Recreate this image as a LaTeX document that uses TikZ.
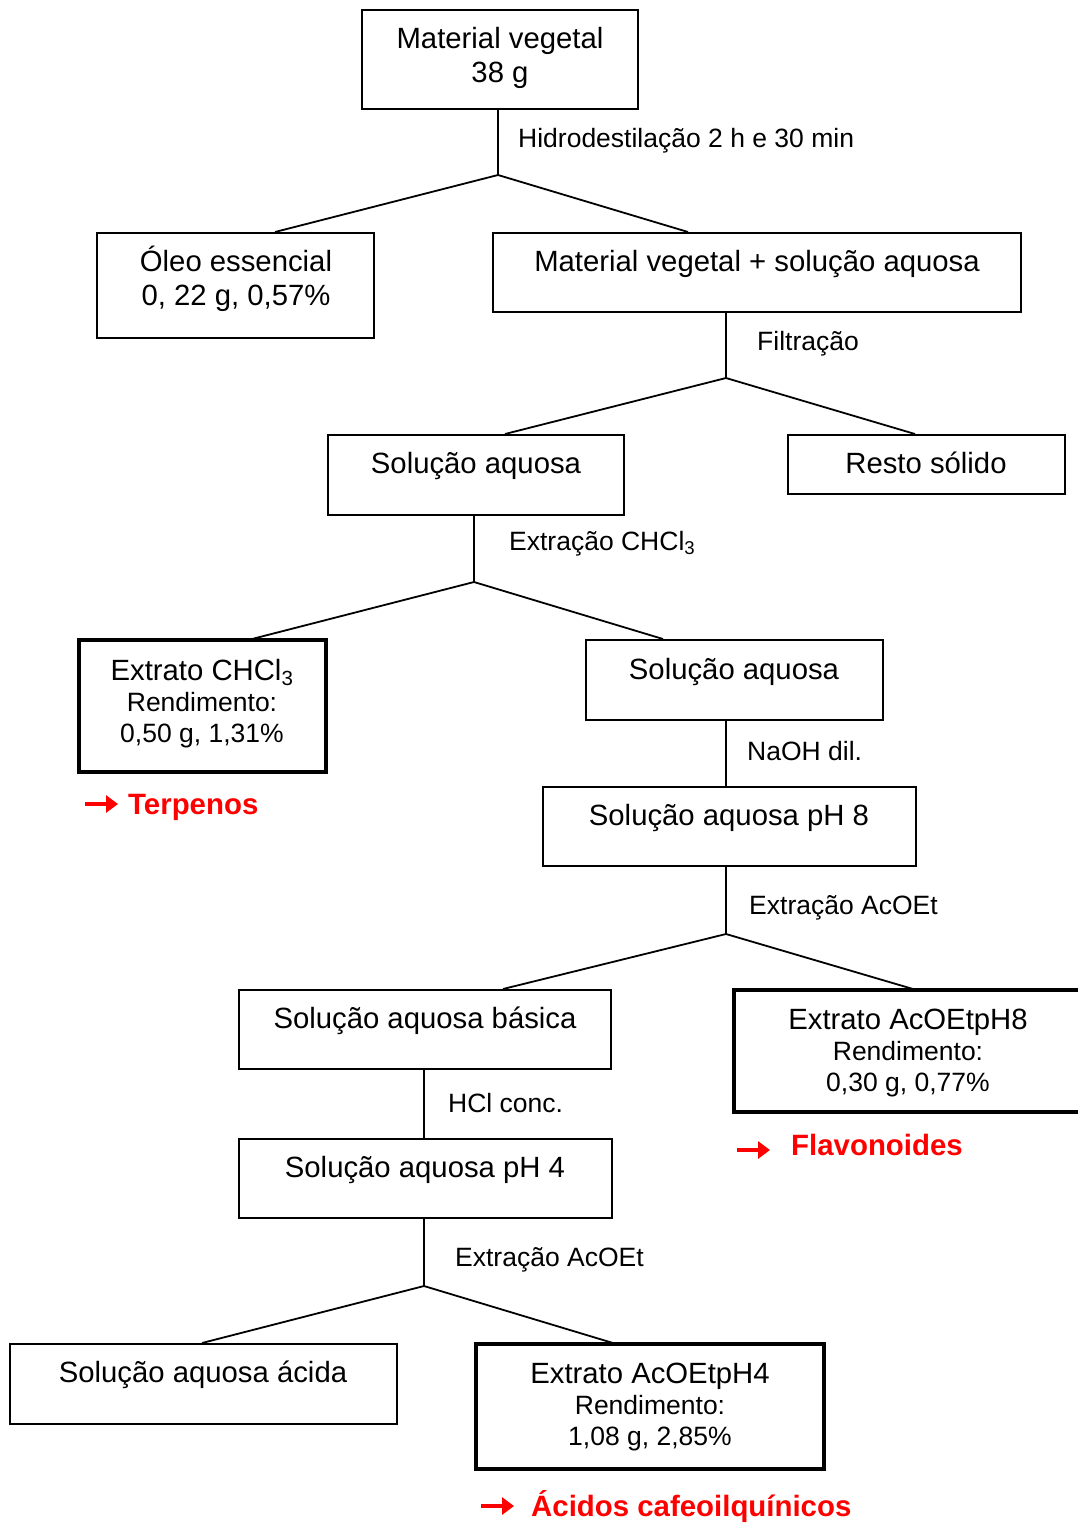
\documentclass[tikz,border=0pt]{standalone}
\usepackage{fontspec}
\setmainfont{Liberation Sans}
\usetikzlibrary{arrows.meta}
\begin{document}
\begin{tikzpicture}[x=1pt,y=-1pt,
  box/.style={draw, line width=1.8pt, inner sep=0pt},
  thickbox/.style={draw, line width=3.6pt, inner sep=0pt},
  main/.style={anchor=base, inner sep=0pt, font=\fontsize{29.3}{33}\selectfont},
  sub/.style={anchor=base, inner sep=0pt, font=\fontsize{26.5}{30}\selectfont},
  lab/.style={anchor=base west, inner sep=0pt, font=\fontsize{26.5}{30}\selectfont},
  red/.style={anchor=base west, inner sep=0pt, text=red, font=\fontsize{29.4}{33}\selectfont\bfseries},
  conn/.style={line width=1.8pt},
  stem/.style={line width=1.5pt},
  redarrow/.style={draw=red, line width=3.6pt, -{Triangle[length=12pt,width=17pt]}}
]
\useasboundingbox (0,0) rectangle (1078,1524);
\fill[white] (0,0) rectangle (1078,1524);

% boxes
\node[box, minimum width=276pt, minimum height=99pt] (b1) at (500,59.5) {};
\node[box, minimum width=277pt, minimum height=105pt] (b2) at (235.5,285.5) {};
\node[box, minimum width=528pt, minimum height=79pt] (b3) at (757,272.5) {};
\node[box, minimum width=296pt, minimum height=80pt] (b4) at (476,475) {};
\node[box, minimum width=277pt, minimum height=59pt] (b5) at (926.5,464.5) {};
\node[thickbox, minimum width=247pt, minimum height=132pt] (b6) at (202.5,706) {};
\node[box, minimum width=297pt, minimum height=80pt] (b7) at (734.5,680) {};
\node[box, minimum width=373pt, minimum height=79pt] (b8) at (729.5,826.5) {};
\node[box, minimum width=372pt, minimum height=79pt] (b9) at (425,1029.5) {};
\node[thickbox, minimum width=348pt, minimum height=122pt] (b10) at (908,1051) {};
\node[box, minimum width=373pt, minimum height=79pt] (b11) at (425.5,1178.5) {};
\node[box, minimum width=387pt, minimum height=80pt] (b12) at (203.5,1384) {};
\node[thickbox, minimum width=348pt, minimum height=125pt] (b13) at (650,1406.5) {};

% texts
\node[main] (t1a) at (500,48) {Material vegetal};
\node[main] (t1b) at (500,82) {38 g};
\node[main] (t2a) at (236,271) {Óleo essencial};
\node[main] (t2b) at (236,305) {0, 22 g, 0,57\%};
\node[main] (t3) at (757,271) {Material vegetal + solução aquosa};
\node[main] (t4) at (476,473) {Solução aquosa};
\node[main] (t5) at (926,473) {Resto sólido};
\node[main] (t6a) at (202,680) {Extrato CHCl\textsubscript{3}};
\node[sub] (t6b) at (202,711) {Rendimento:};
\node[sub] (t6c) at (202,742) {0,50 g, 1,31\%};
\node[main] (t7) at (734,679) {Solução aquosa};
\node[main] (t8) at (729,825) {Solução aquosa pH 8};
\node[main] (t9) at (425,1028) {Solução aquosa básica};
\node[main] (t10a) at (908,1029) {Extrato AcOEtpH8};
\node[sub] (t10b) at (908,1060) {Rendimento:};
\node[sub] (t10c) at (908,1091) {0,30 g, 0,77\%};
\node[main] (t11) at (425,1177) {Solução aquosa pH 4};
\node[main] (t12) at (203,1382) {Solução aquosa ácida};
\node[main] (t13a) at (650,1383) {Extrato AcOEtpH4};
\node[sub] (t13b) at (650,1414) {Rendimento:};
\node[sub] (t13c) at (650,1445) {1,08 g, 2,85\%};

% step labels
\node[lab] (l1) at (518,147) {Hidrodestilação 2 h e 30 min};
\node[lab] (l2) at (757,350) {Filtração};
\node[lab] (l3) at (509,550) {Extração CHCl\textsubscript{3}};
\node[lab] (l4) at (747,760) {NaOH dil.};
\node[lab] (l5) at (749,914) {Extração AcOEt};
\node[lab] (l6) at (448,1112) {HCl conc.};
\node[lab] (l7) at (455,1266) {Extração AcOEt};

% junctions and branch ends
\coordinate (j1) at (498,175);
\coordinate (e1a) at (275,232);
\coordinate (e1b) at (688,232);
\coordinate (j2) at (726,378);
\coordinate (e2a) at (505,434);
\coordinate (e2b) at (915,434);
\coordinate (j3) at (474,582);
\coordinate (e3a) at (252,639);
\coordinate (e3b) at (663,639);
\coordinate (j5) at (726,934);
\coordinate (e5a) at (503,989);
\coordinate (e5b) at (913,989);
\coordinate (j7) at (424,1286);
\coordinate (e7a) at (202,1343);
\coordinate (e7b) at (613,1343);

\draw[stem] (b1.south -| j1) -- (j1);
\draw[conn] (e1a) -- (j1) -- (e1b);
\draw[stem] (b3.south -| j2) -- (j2);
\draw[conn] (e2a) -- (j2) -- (e2b);
\draw[stem] (b4.south -| j3) -- (j3);
\draw[conn] (e3a) -- (j3) -- (e3b);
\draw[stem] (b7.south -| j2) -- (b8.north -| j2);
\draw[stem] (b8.south -| j5) -- (j5);
\draw[conn] (e5a) -- (j5) -- (e5b);
\draw[stem] (b9.south -| j7) -- (b11.north -| j7);
\draw[stem] (b11.south -| j7) -- (j7);
\draw[conn] (e7a) -- (j7) -- (e7b);

% results
\node[red] (r1) at (128,814) {Terpenos};
\node[red] (r2) at (791,1155) {Flavonoides};
\node[red] (r3) at (531,1516) {Ácidos cafeoilquínicos};
\coordinate (a1) at (85,804);
\coordinate (a2) at (737,1150);
\coordinate (a3) at (481,1506);
\draw[redarrow] (a1) -- ([xshift=-10pt]r1.west |- a1);
\draw[redarrow] (a2) -- ([xshift=-21pt]r2.west |- a2);
\draw[redarrow] (a3) -- ([xshift=-17pt]r3.west |- a3);
\end{tikzpicture}
\end{document}
